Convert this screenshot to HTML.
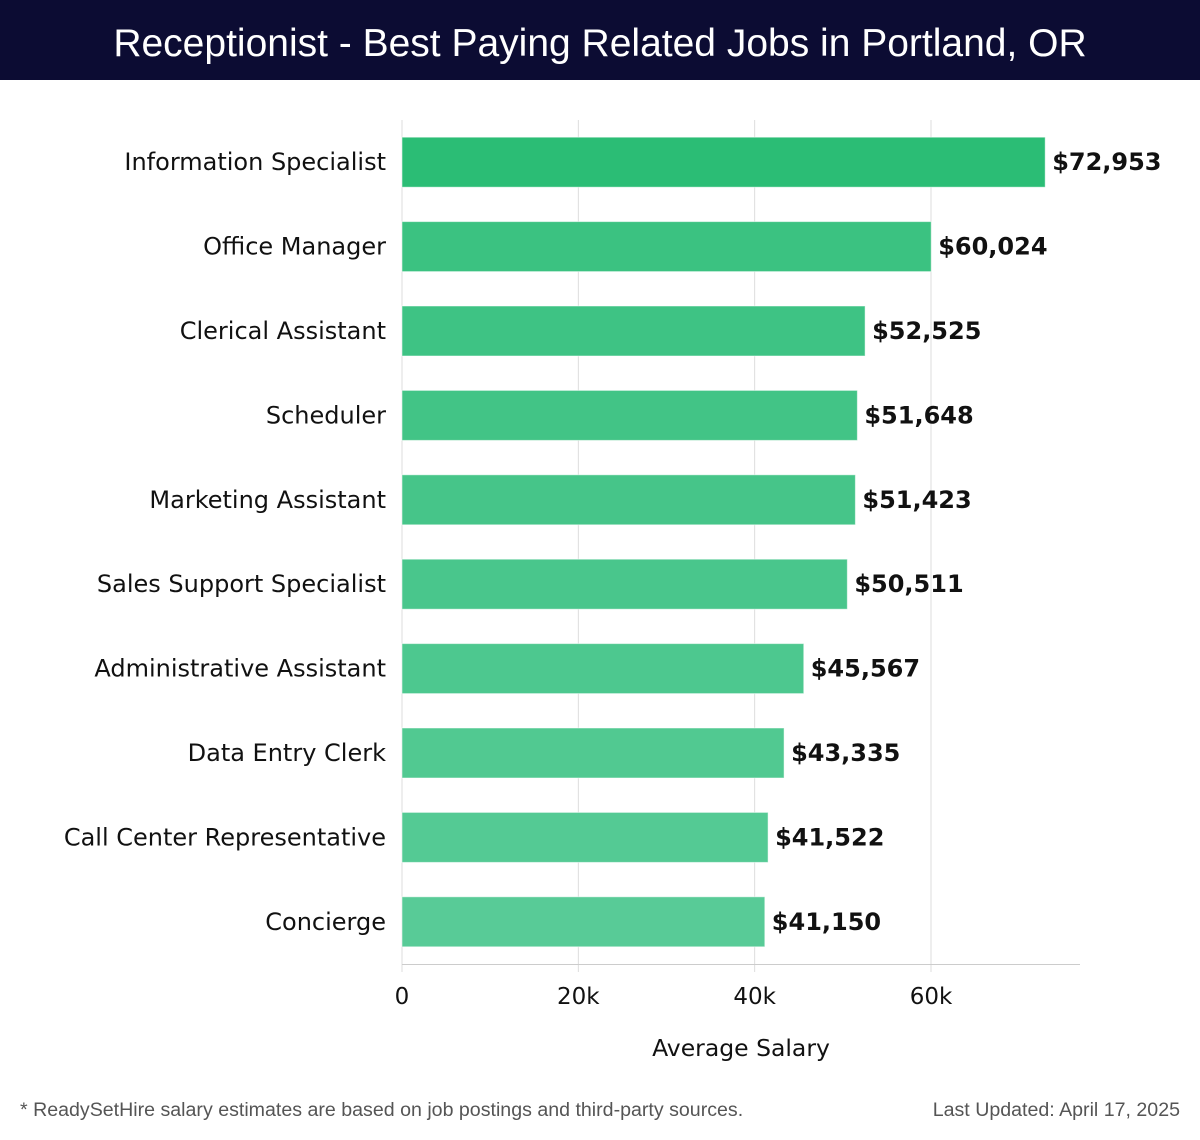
<!DOCTYPE html>
<html><head><meta charset="utf-8"><style>
body{margin:0;width:1200px;height:1140px;background:#fff;overflow:hidden;font-family:"DejaVu Sans","Liberation Sans",sans-serif}
#title{position:absolute;left:0;top:0;width:1200px;height:80px;background:#0c0c33;color:#fff;font-family:"Liberation Sans",sans-serif;font-size:39px;text-align:center;line-height:88px}
.foot{position:absolute;top:1099px;font-family:"Liberation Sans",sans-serif;font-size:19.6px;color:#555}
</style></head><body>
<div id="title">Receptionist - Best Paying Related Jobs in Portland, OR</div>
<svg id="chart" width="1200" height="1140" style="position:absolute;left:0;top:0"></svg>
<div class="foot" style="left:20px">* ReadySetHire salary estimates are based on job postings and third-party sources.</div>
<div class="foot" style="right:20px">Last Updated: April 17, 2025</div>
<script>
const categories=["Information Specialist","Office Manager","Clerical Assistant","Scheduler","Marketing Assistant","Sales Support Specialist","Administrative Assistant","Data Entry Clerk","Call Center Representative","Concierge"];
const values=[72953,60024,52525,51648,51423,50511,45567,43335,41522,41150];
const valueLabels=["$72,953","$60,024","$52,525","$51,648","$51,423","$50,511","$45,567","$43,335","$41,522","$41,150"];
const ticks=[0,20000,40000,60000];
const tickLabels=["0","20k","40k","60k"];
const NS="http://www.w3.org/2000/svg";
const svg=document.getElementById('chart');
const x0=402,pxPer=(931-402)/60000;
const x=v=>x0+v*pxPer;
const top0=120,band=84.4,barH=50;
const y=i=>top0+i*band+(band-barH)/2;
function mk(t,a){const e=document.createElementNS(NS,t);for(const k in a)e.setAttribute(k,a[k]);svg.appendChild(e);return e;}
ticks.forEach((t,i)=>{
 const g=mk('line',{x1:x(t),x2:x(t),y1:120,y2:972,stroke:'#ddd','stroke-width':1});
 
 
 const tl=mk('text',{x:x(t),y:1004,'text-anchor':'middle','font-size':23,fill:'#111'});
 tl.textContent=tickLabels[i];
 
 
});
const ax=mk('line',{x1:x0,x2:1080,y1:964.5,y2:964.5,stroke:'#ccc','stroke-width':1});


const c1=[43,189,117],c2=[88,203,151];
categories.forEach((c,i)=>{
 const f=i===0?0:0.35+0.65*(i-1)/(categories.length-2);
 const col=`rgb(${c1.map((v,k)=>Math.round(v+(c2[k]-v)*f)).join(',')})`;
 const r=mk('rect',{x:x0,y:y(i),width:x(values[i])-x0,height:barH,fill:col,stroke:'rgba(255,255,255,0.5)','stroke-width':1});
 
 
 const l=mk('text',{x:386,y:y(i)+barH/2+8,'text-anchor':'end','font-size':24,fill:'#111'});
 l.textContent=c;
 
 
 const v=mk('text',{x:x(values[i])+7,y:y(i)+barH/2+8,'font-size':24,'font-weight':'bold',fill:'#111'});
 v.textContent=valueLabels[i];
 
 
});
const at=mk('text',{x:741,y:1056,'text-anchor':'middle','font-size':23.5,fill:'#111'});
at.textContent="Average Salary";


</script>
</body></html>
